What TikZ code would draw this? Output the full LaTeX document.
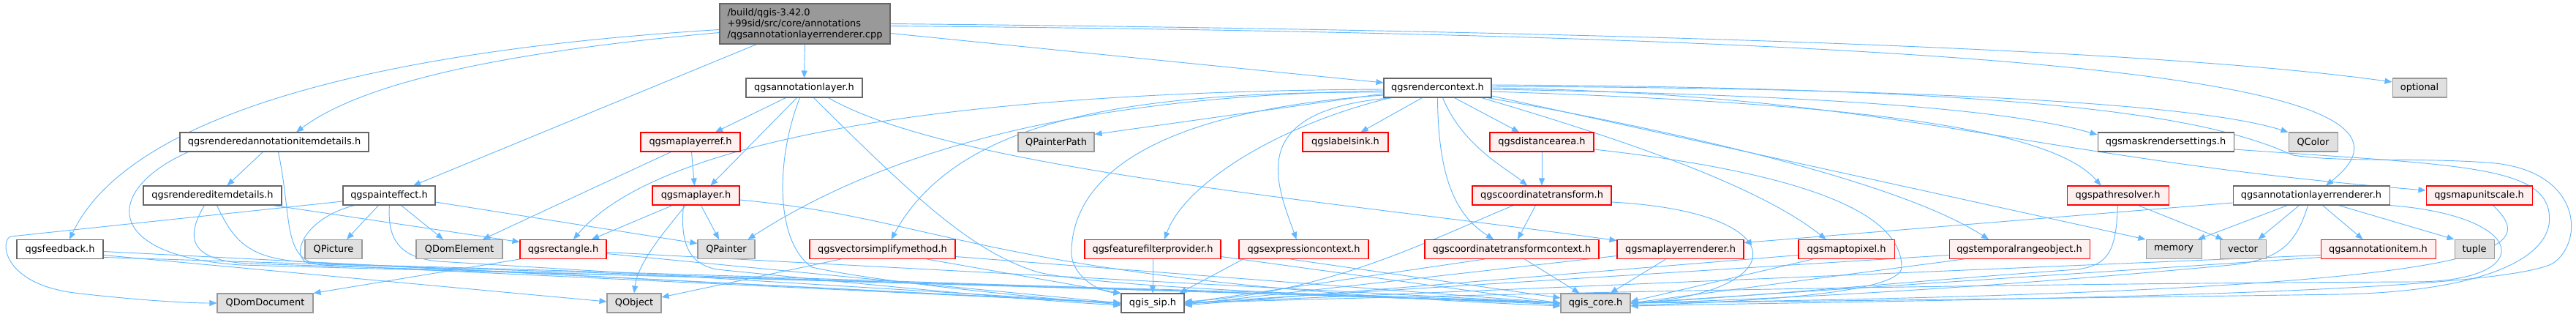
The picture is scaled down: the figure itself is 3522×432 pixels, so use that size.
\documentclass[tikz,border=0pt]{standalone}
\usepackage{fontspec}
\setmainfont{DejaVu Sans}
\usetikzlibrary{arrows.meta,calc,backgrounds}
\definecolor{eblue}{HTML}{63B8FF}
\definecolor{redfill}{HTML}{FFF0F0}
\definecolor{grayfill}{HTML}{E0E0E0}
\definecolor{grayline}{HTML}{999999}
\definecolor{darkline}{HTML}{666666}
\definecolor{mainfill}{HTML}{999999}
\begin{document}
\begin{tikzpicture}[x=0.75pt,y=-0.75pt,
  box/.style={draw, rectangle, minimum height=19.5pt, inner sep=0pt,
    font=\fontsize{9.7}{11.25}\selectfont, line width=0.8pt},
  wnode/.style={box, draw=darkline, fill=white},
  rnode/.style={box, draw=red, fill=redfill},
  gnode/.style={box, draw=grayline, fill=grayfill},
  mnode/.style={box, draw=darkline, fill=mainfill, align=left},
  bw/.style={minimum width=#1*0.75pt},
  edge/.style={draw=eblue, line width=0.7pt, -{Triangle[length=7.5pt,width=6pt]}}]
\useasboundingbox (0,0) rectangle (3522,432);
% row 0-1
\node[mnode, bw=233, minimum height=41.25pt] (main) at (1100.5,32.5) {/build/qgis-3.42.0\\+99sid/src/core/annotations\\/qgsannotationlayerrenderer.cpp};
\node[wnode, bw=159] (al) at (1099.5,120) {qgsannotationlayer.h};
\node[wnode, bw=147] (rc) at (1965.5,120) {qgsrendercontext.h};
\node[gnode, bw=74] (opt) at (3308,120) {optional};
% row 2
\node[wnode, bw=258] (raid) at (375,194) {qgsrenderedannotationitemdetails.h};
\node[rnode, bw=136] (mlref) at (944,194) {qgsmaplayerref.h};
\node[gnode, bw=104] (qpp) at (1444,194) {QPainterPath};
\node[rnode, bw=117] (ls) at (1839.5,194) {qgslabelsink.h};
\node[rnode, bw=142] (da) at (2108,194) {qgsdistancearea.h};
\node[wnode, bw=186] (mrs) at (2961,194) {qgsmaskrendersettings.h};
\node[gnode, bw=67] (qcolor) at (3162.5,194) {QColor};
% row 3
\node[wnode, bw=189] (rid) at (290.5,267) {qgsrendereditemdetails.h};
\node[wnode, bw=126] (pe) at (532,267) {qgspainteffect.h};
\node[rnode, bw=119] (ml) at (951.5,267) {qgsmaplayer.h};
\node[rnode, bw=190] (ct) at (2108,267) {qgscoordinatetransform.h};
\node[rnode, bw=139] (pr) at (2895.5,267) {qgspathresolver.h};
\node[wnode, bw=214] (alr) at (3160,267) {qgsannotationlayerrenderer.h};
\node[rnode, bw=145] (mus) at (3389.5,267) {qgsmapunitscale.h};
% row 4
\node[wnode, bw=118] (fb) at (82,340.5) {qgsfeedback.h};
\node[gnode, bw=78] (qpic) at (456,340.5) {QPicture};
\node[gnode, bw=118] (qde) at (628,340.5) {QDomElement};
\node[rnode, bw=118] (re) at (770,340.5) {qgsrectangle.h};
\node[gnode, bw=78] (qp) at (993,340.5) {QPainter};
\node[rnode, bw=199] (vsm) at (1206.5,340.5) {qgsvectorsimplifymethod.h};
\node[rnode, bw=186] (ffp) at (1576,340.5) {qgsfeaturefilterprovider.h};
\node[rnode, bw=177] (ec) at (1782.5,340.5) {qgsexpressioncontext.h};
\node[rnode, bw=238] (ctc) at (2067,340.5) {qgscoordinatetransformcontext.h};
\node[rnode, bw=173] (mlr) at (2297.5,340.5) {qgsmaplayerrenderer.h};
\node[rnode, bw=131] (mtp) at (2524.5,340.5) {qgsmaptopixel.h};
\node[rnode, bw=192] (tro) at (2761,340.5) {qgstemporalrangeobject.h};
\node[gnode, bw=76] (mem) at (2972,340.5) {memory};
\node[gnode, bw=63] (vec) at (3066.5,340.5) {vector};
\node[rnode, bw=157] (ai) at (3251.5,340.5) {qgsannotationitem.h};
\node[gnode, bw=54] (tuple) at (3383,340.5) {tuple};
% row 5
\node[gnode, bw=131] (qdd) at (362.5,414) {QDomDocument};
\node[gnode, bw=74] (qobj) at (867,414) {QObject};
\node[wnode, bw=86] (qsip) at (1576,414) {qgis\_sip.h};
\node[gnode, bw=95] (qcore) at (2181.5,414) {qgis\_core.h};

\begin{pgfonlayer}{background}
% main
\draw[edge] (main.west) ++(0,8) .. controls (500,70) and (175,160) .. ($(fb.north)+(13,0)$);
\draw[edge] (main.west) ++(0,12) .. controls (700,70) and (500,110) .. ($(raid.north)+(30,0)$);
\draw[edge] (main.south west) ++(51,0) -- ($(pe.north)+(33,0)$);
\draw[edge] (main.south) -- (al.north);
\draw[edge] (main.east) ++(0,13) -- ($(rc.west)+(0,-7)$);
\draw[edge] (main.east) .. controls (2000,40) and (2900,60) .. ($(opt.west)+(0,-8)$);
\draw[edge] (main.east) ++(0,3) .. controls (2900,50) and (3350,120) .. ($(alr.north)+(20,0)$);
% annotation layer
\draw[edge] (al.south west) ++(55,0) -- ($(mlref.north)+(34,0)$);
\draw[edge] (al.south west) ++(70,0) -- ($(ml.north)+(20,0)$);
\draw[edge] (al.south west) ++(74,0) .. controls (1060,220) and (1060,330) .. (1110,365) .. controls (1200,385) and (1400,405) .. ($(qsip.west)+(0,2)$);
\draw[edge] (al.south west) ++(93,0) .. controls (1250,270) and (1330,345) .. (1420,372) .. controls (1520,395) and (1900,405) .. ($(qcore.west)+(0,2)$);
\draw[edge] (al.south west) ++(113,0) .. controls (1300,230) and (1800,272) .. ($(mlr.west)+(0,-12)$);
% map layer ref
\draw[edge] (mlref.south west) ++(70,0) -- ($(ml.north)+(-2,0)$);
\draw[edge] (mlref.south west) ++(42,0) -- ($(qde.north)+(32,0)$);
% map layer
\draw[edge] (ml.south west) ++(28,0) -- ($(re.north)+(39,0)$);
\draw[edge] (ml.south west) ++(67,0) -- ($(qp.north)+(-10,0)$);
\draw[edge] (ml.south west) ++(46,0) .. controls (905,320) and (872,360) .. (qobj.north);
\draw[edge] (ml.south west) ++(43,0) .. controls (930,330) and (940,360) .. (980,368) .. controls (1150,385) and (1400,410) .. ($(qsip.west)+(0,3)$);
\draw[edge] (ml.east) ++(0,6) .. controls (1300,300) and (1350,385) .. ($(qcore.west)+(0,4)$);
% rendered annotation item details
\draw[edge] (raid.south west) ++(114,0) -- ($(rid.north)+(20,0)$);
\draw[edge] (raid.south west) ++(12,0) .. controls (140,260) and (140,350) .. (330,362) .. controls (900,378) and (1800,398) .. (qcore.west);
\draw[edge] (raid.south west) ++(135,0) .. controls (400,300) and (385,355) .. (440,362) -- (qsip.west);
% rendered item details
\draw[edge] (rid.south east) ++(-12,0) -- ($(re.west)+(0,-10)$);
\draw[edge] (rid.south west) ++(84,0) .. controls (250,330) and (265,356) .. (340,360) .. controls (900,378) and (1800,402) .. (qcore.west);
\draw[edge] (rid.south west) ++(101,0) .. controls (320,330) and (340,354) .. (420,358) -- (qsip.west);
% paint effect
\draw[edge] (pe.west) ++(0,8) -- (15,323) .. controls (0,326) and (0,390) .. (110,401) .. controls (180,409) and (250,414) .. (qdd.west);
\draw[edge] (pe.south west) ++(49,0) -- ($(qpic.north)+(18,0)$);
\draw[edge] (pe.south west) ++(80,0) -- ($(qde.north)+(-22,0)$);
\draw[edge] (pe.east) ++(0,9) -- ($(qp.west)+(0,-8)$);
\draw[edge] (pe.south west) ++(16,0) .. controls (410,300) and (395,356) .. (425,360) .. controls (1000,375) and (1800,404) .. (qcore.west);
\draw[edge] (pe.south west) ++(64,0) .. controls (530,320) and (540,352) .. (600,357) -- (qsip.west);
% feedback
\draw[edge] (fb.east) ++(0,8) -- ($(qobj.west)+(0,-2)$);
\draw[edge] (fb.east) ++(0,3) -- (qsip.west);
\draw[edge] (fb.east) ++(0,11) -- (qcore.west);
% rectangle
\draw[edge] (re.south west) -- (qdd.north east);
\draw[edge] (re.east) ++(0,6) -- (qsip.west);
\draw[edge] (re.east) ++(0,4) -- (qcore.west);
% vector simplify
\draw[edge] (vsm.south west) ++(43,0) -- ($(qobj.east)+(0,-8)$);
\draw[edge] (vsm.south west) ++(161,0) -- (qsip.north west);
\draw[edge] (vsm.east) ++(0,10) -- (qcore.west);
% feature filter provider
\draw[edge] (ffp.south) -- (qsip.north);
\draw[edge] (ffp.east) ++(0,10) -- (qcore.west);
% expression context
\draw[edge] (ec.south west) ++(6,0) -- ($(qsip.north east)+(-7,0)$);
\draw[edge] (ec.south west) ++(71,0) -- ($(qcore.west)+(0,-7)$);
% coordinate transform context
\draw[edge] (ctc.south west) ++(82,0) -- (qsip.east);
\draw[edge] (ctc.south west) ++(137,0) -- ($(qcore.north)+(-22,0)$);
% map layer renderer
\draw[edge] (mlr.west) ++(0,9) -- ($(qsip.east)+(0,2)$);
\draw[edge] (mlr.south west) ++(67,0) -- ($(qcore.north)+(20,0)$);
% coordinate transform
\draw[edge] (ct.south west) ++(87,0) -- ($(ctc.north)+(8,0)$);
\draw[edge] (ct.south west) ++(57,0) .. controls (1960,325) and (1820,400) .. ($(qsip.east)+(0,-2)$);
\draw[edge] (ct.east) ++(0,9) .. controls (2460,290) and (2450,400) .. (qcore.east);
% distance area
\draw[edge] (da.south) -- (ct.north);
\draw[edge] (da.east) ++(0,10) .. controls (2500,240) and (2600,300) .. (2600,365) .. controls (2600,400) and (2400,412) .. ($(qcore.east)+(0,3)$);
% map to pixel
\draw[edge] (mtp.west) ++(0,8) -- ($(qsip.east)+(0,3)$);
\draw[edge] (mtp.south west) ++(20,0) -- ($(qcore.east)+(0,-2)$);
% temporal range object
\draw[edge] (tro.west) ++(0,8) -- (qsip.east);
\draw[edge] (tro.south west) ++(20,0) -- (qcore.east);
% path resolver
\draw[edge] (pr.south west) ++(98,0) -- ($(vec.north west)+(5,0)$);
\draw[edge] (pr.south west) ++(70,0) .. controls (2893,340) and (2885,362) .. (2840,368) .. controls (2600,385) and (2400,405) .. (qcore.east);
% mask render settings
\draw[edge] (mrs.east) ++(0,10) .. controls (3350,225) and (3475,225) .. (3485,290) .. controls (3495,350) and (3400,398) .. (3200,402) .. controls (2800,408) and (2400,412) .. (qcore.east);
% map unit scale
\draw[edge] (mus.south west) ++(92,0) .. controls (3470,340) and (3465,398) .. (qcore.east);
% annotation layer renderer
\draw[edge] (alr.west) ++(0,10) -- ($(mlr.east)+(0,-9)$);
\draw[edge] (alr.south west) ++(75,0) -- ($(mem.north)+(33,0)$);
\draw[edge] (alr.south west) ++(91,0) -- ($(vec.north)+(21,0)$);
\draw[edge] (alr.south west) ++(123,0) -- ($(ai.north)+(-21,0)$);
\draw[edge] (alr.south west) ++(145,0) -- (tuple.north west);
\draw[edge] (alr.south west) ++(103,0) .. controls (3140,330) and (3120,355) .. (3050,362) .. controls (2700,395) and (2400,410) .. (qcore.east);
\draw[edge] (alr.south east) .. controls (3460,295) and (3470,385) .. (3300,385) .. controls (2600,388) and (1900,405) .. (qsip.east);
% annotation item
\draw[edge] (ai.west) ++(0,8) -- (qsip.east);
\draw[edge] (ai.west) ++(0,11) -- (qcore.east);
% render context
\draw[edge] (rc.west) ++(0,8) -- ($(qpp.north east)+(0,3)$);
\draw[edge] (rc.west) ++(0,4) .. controls (1550,130) and (1250,180) .. ($(qp.north east)+(-10,0)$);
\draw[edge] (rc.west) ++(0,2) .. controls (1300,125) and (900,190) .. ($(re.north)+(14,0)$);
\draw[edge] (rc.west) ++(0,6) .. controls (1550,125) and (1310,160) .. ($(vsm.north)+(12,0)$);
\draw[edge] (rc.south west) ++(10,0) .. controls (1750,170) and (1620,250) .. ($(ffp.north)+(16,0)$);
\draw[edge] (rc.west) ++(0,10) .. controls (1600,150) and (1470,230) .. (1465,340) .. controls (1462,375) and (1500,398) .. (qsip.north west);
\draw[edge] (rc.south west) ++(53,0) -- ($(ls.north)+(21,0)$);
\draw[edge] (rc.south west) ++(13,0) .. controls (1700,150) and (1745,250) .. ($(ec.north)+(-10,0)$);
\draw[edge] (rc.south west) ++(74,0) .. controls (1966,260) and (2000,300) .. ($(ctc.north)+(-25,0)$);
\draw[edge] (rc.south west) ++(81,0) .. controls (2000,200) and (2060,230) .. ($(ct.north)+(-20,0)$);
\draw[edge] (rc.south west) ++(97,0) -- ($(da.north)+(-31,0)$);
\draw[edge] (rc.south east) ++(-14,0) .. controls (2200,185) and (2400,250) .. ($(mtp.north)+(-28,0)$);
\draw[edge] (rc.south east) ++(-6,0) .. controls (2300,180) and (2600,250) .. ($(tro.north)+(-42,0)$);
\draw[edge] (rc.east) ++(0,11) -- (mem.north west);
\draw[edge] (rc.east) ++(0,5) .. controls (2500,140) and (2800,170) .. ($(pr.north)+(-23,0)$);
\draw[edge] (rc.east) ++(0,2) .. controls (2500,130) and (2750,150) .. ($(mrs.west)+(0,-10)$);
\draw[edge] (rc.east) ++(0,-2) .. controls (2600,120) and (3000,140) .. (qcolor.north west);
\draw[edge] (rc.east) .. controls (2600,130) and (2760,215) .. ($(mus.west)+(0,-7)$);
\draw[edge] (rc.east) ++(0,-4) .. controls (2800,120) and (3020,160) .. (3135,212) .. controls (3200,222) and (3300,215) .. (3400,222) .. controls (3530,230) and (3535,330) .. (3490,360) .. controls (3400,405) and (2600,410) .. ($(qcore.east)+(0,4)$);
\end{pgfonlayer}
\end{tikzpicture}
\end{document}
